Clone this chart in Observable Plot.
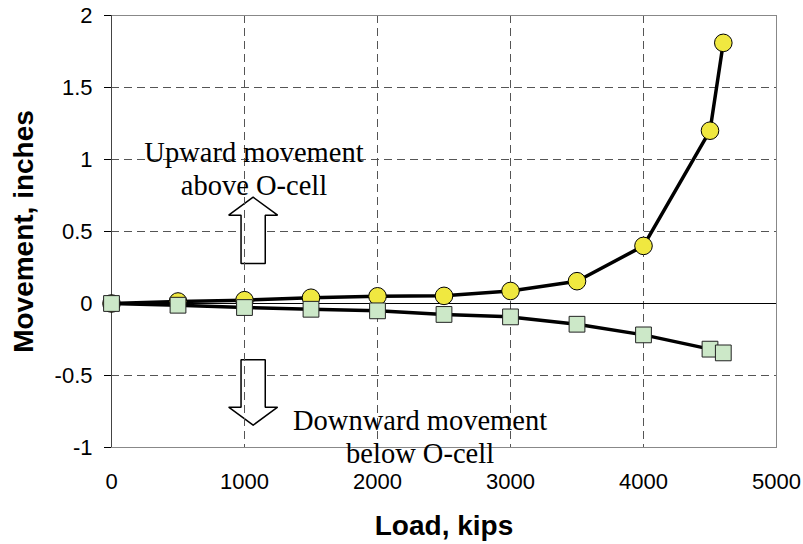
<!DOCTYPE html>
<html><head><meta charset="utf-8">
<script src="https://cdn.jsdelivr.net/npm/d3@7"></script>
<script src="https://cdn.jsdelivr.net/npm/@observablehq/plot@0.6"></script>
<style>body{margin:0;background:#fff}</style>
</head><body><div id="chart"></div>
<script>
// Load (kips)
const loads = [0, 500, 1000, 1500, 2000, 2500, 3000, 3500, 4000, 4500, 4600];
// Upward movement above O-cell (inches)
const upward = [0, 0.014, 0.023, 0.04, 0.05, 0.053, 0.087, 0.155, 0.40, 1.20, 1.81];
// Downward movement below O-cell (inches)
const downward = [0, -0.012, -0.028, -0.04, -0.051, -0.076, -0.093, -0.144, -0.218, -0.317, -0.343];

const xTicks = [0, 1000, 2000, 3000, 4000, 5000];
const yTicks = [-1, -0.5, 0, 0.5, 1, 1.5, 2];
const xGrid = [1000, 2000, 3000, 4000];
const yGrid = [-0.5, 0.5, 1, 1.5];
const upLabel = "Upward movement\nabove O-cell";
const downLabel = "Downward movement\nbelow O-cell";

const upData = loads.map((x, i) => ({x, y: upward[i]}));
const downData = loads.map((x, i) => ({x, y: downward[i]}));

// block arrow outline in data units (annotation)
function arrow(cx, tip, base, end, hw, sw) {
  return [[cx, tip], [cx + hw, base], [cx + sw, base], [cx + sw, end],
          [cx - sw, end], [cx - sw, base], [cx - hw, base], [cx, tip]];
}
const arrowUp = arrow(1065, 0.738, 0.613, 0.278, 184, 91);
const arrowDown = arrow(1065, -0.845, -0.72, -0.39, 184, 91);

const serif = "'Liberation Serif', 'Times New Roman', serif";

const chart = Plot.plot({
  width: 803, height: 544,
  marginLeft: 111, marginRight: 27, marginTop: 15, marginBottom: 97,
  style: {fontFamily: "'Liberation Sans', Arial, sans-serif", fontSize: "22px", color: "#000", background: "#fff", overflow: "visible"},
  x: {domain: [0, 5000], ticks: xTicks, tickFormat: d => String(d), tickSize: 0, tickPadding: 26, label: null},
  y: {domain: [-1, 2], ticks: yTicks, tickFormat: d => String(d), tickSize: 7, tickPadding: 12, label: null},
  marks: [
    Plot.ruleY(yGrid, {stroke: "#555", strokeDasharray: "8,5", strokeWidth: 1}),
    Plot.line(arrowUp, {x: d => d[0], y: d => d[1], fill: "white", stroke: "#000", strokeWidth: 1.5, strokeLinejoin: "miter"}),
    Plot.line(arrowDown, {x: d => d[0], y: d => d[1], fill: "white", stroke: "#000", strokeWidth: 1.5, strokeLinejoin: "miter"}),
    Plot.ruleX(xGrid, {stroke: "#555", strokeDasharray: "8,5", strokeWidth: 1}),
    Plot.frame({stroke: "#888"}),
    Plot.ruleX([0], {stroke: "#444"}),
    Plot.ruleY([0], {stroke: "#000"}),
    Plot.text([upLabel], {text: d => d, x: 1071, y: 0.944, fontFamily: serif, fontSize: 28.5, lineHeight: 1.16, fill: "#000"}),
    Plot.text([downLabel], {text: d => d, x: 2320, y: -0.917, fontFamily: serif, fontSize: 28.5, lineHeight: 1.16, fill: "#000"}),
    Plot.line(upData, {x: "x", y: "y", stroke: "#000", strokeWidth: 3.5}),
    Plot.dot(upData, {x: "x", y: "y", r: 8.8, fill: "#f0e840", stroke: "#000", strokeWidth: 1}),
    Plot.line(downData, {x: "x", y: "y", stroke: "#000", strokeWidth: 3.5}),
    Plot.dot(downData, {x: "x", y: "y", symbol: "square", r: 8.9, fill: "#cce8c8", stroke: "#222", strokeWidth: 1}),
    Plot.text(["Load, kips"], {text: d => d, frameAnchor: "bottom", lineAnchor: "middle", textAnchor: "middle", dy: 79, fontWeight: "bold", fontSize: 28}),
    Plot.text(["Movement, inches"], {text: d => d, frameAnchor: "left", lineAnchor: "middle", textAnchor: "middle", dx: -87, rotate: -90, fontWeight: "bold", fontSize: 28})
  ]
});
document.getElementById("chart").appendChild(chart);
</script>
</body></html>
